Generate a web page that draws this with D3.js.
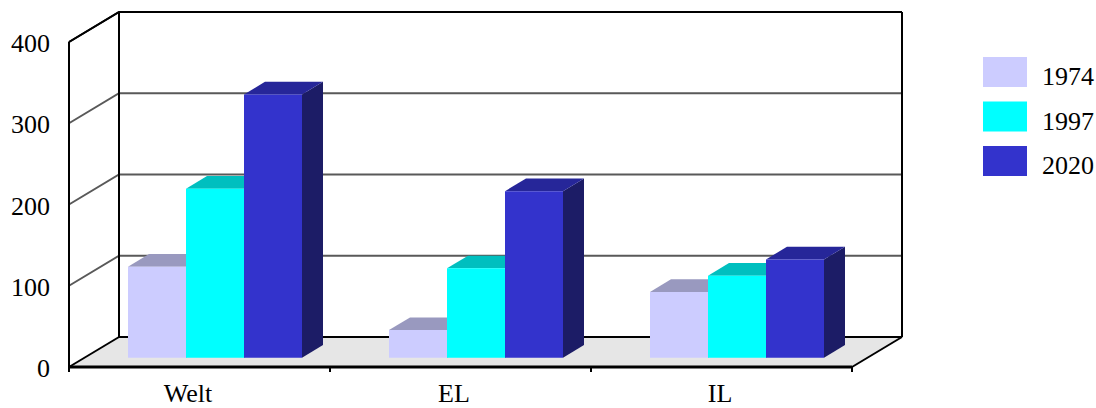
<!DOCTYPE html>
<html>
<head>
<meta charset="utf-8">
<script src="https://cdn.jsdelivr.net/npm/d3@7"></script>
<style>
html,body{margin:0;padding:0;background:#fff;}
svg{display:block;}
text{font-family:"Liberation Serif","Times New Roman",serif;fill:#000;}
</style>
</head>
<body>
<svg id="chart" width="1096" height="408"></svg>
<script>
const categories = ["Welt", "EL", "IL"];
const seriesNames = ["1974", "1997", "2020"];
const values1974 = [112, 34, 81];
const values1997 = [208, 110, 101];
const values2020 = [324, 205, 121];
const yTicks = [0, 100, 200, 300, 400];

const seriesValues = [values1974, values1997, values2020];
const frontColors = ["#CCCCFF", "#00FFFF", "#3333CC"];
const topColors = ["#9999BF", "#00BFBF", "#262699"];
const sideColors = ["#8C8CB3", "#00A6A6", "#1C1C66"];

const svg = d3.select("#chart");

// geometry
const depthX = 50, depthY = -30;
const x = d3.scaleBand().domain(categories).range([69, 852]).paddingInner(0).paddingOuter(0);
const xs = d3.scaleBand().domain(seriesNames).range([0, x.bandwidth()]).paddingInner(0).paddingOuter(0.75);
const y = d3.scaleLinear().domain([0, 400]).range([367, 42]);
const xLabel = d3.scaleBand().domain(categories).range([55, 853]);

const P = (px, py, d) => [px + depthX * d, py + depthY * d];
const poly = pts => pts.map(p => p.join(",")).join(" ");

const x0 = x.range()[0], x1 = x.range()[1];

// floor
svg.append("polygon")
  .attr("points", poly([P(x0, y(0), 0), P(x1, y(0), 0), P(x1, y(0), 1), P(x0, y(0), 1)]))
  .attr("fill", "#E6E6E6");

// grid lines (back wall + left wall)
const g = svg.append("g");
yTicks.filter(t => t > 0 && t < 400).forEach(t => {
  const a = P(x0, y(t), 0), b = P(x0, y(t), 1), c = P(x1, y(t), 1);
  g.append("polyline").attr("points", poly([a, b, c]))
    .attr("fill", "none").attr("stroke", "#595959").attr("stroke-width", 2);
});

// frame lines
const frame = svg.append("g").attr("stroke", "#000").attr("stroke-width", 2).attr("fill", "none");
frame.append("polyline").attr("points", poly([P(x0, y(400), 0), P(x0, y(400), 1), P(x1, y(400), 1)]));
frame.append("line").attr("x1", P(x0,0,1)[0]).attr("x2", P(x0,0,1)[0]).attr("y1", P(0,y(400),1)[1]).attr("y2", P(0,y(0),1)[1]);
frame.append("line").attr("x1", P(x1,0,1)[0]).attr("x2", P(x1,0,1)[0]).attr("y1", P(0,y(400),1)[1]).attr("y2", P(0,y(0),1)[1]);
frame.append("line").attr("x1", P(x0,0,1)[0]).attr("x2", P(x1,0,1)[0]).attr("y1", P(0,y(0),1)[1]).attr("y2", P(0,y(0),1)[1]);
frame.append("line").attr("x1", x0).attr("y1", y(0)).attr("x2", P(x0,0,1)[0]).attr("y2", P(0,y(0),1)[1]);
frame.append("line").attr("x1", x1).attr("y1", y(0)).attr("x2", P(x1,0,1)[0]).attr("y2", P(0,y(0),1)[1]);

// bars
const dFront = 0.31, dBack = 0.31 + 0.42;
const bars = svg.append("g");
categories.forEach((cat, ci) => {
  seriesNames.forEach((s, si) => {
    const v = seriesValues[si][ci];
    const l = x(cat) + xs(s), r = l + xs.bandwidth();
    const top = y(v), bot = y(0);
    const fl = P(l, top, dFront), fr = P(r, top, dFront);
    const flb = P(l, bot, dFront), frb = P(r, bot, dFront);
    const bl = P(l, top, dBack), br = P(r, top, dBack), brb = P(r, bot, dBack);
    bars.append("polygon").attr("points", poly([fr, br, brb, frb])).attr("fill", sideColors[si]);
    bars.append("polygon").attr("points", poly([fl, fr, br, bl])).attr("fill", topColors[si]);
    bars.append("polygon").attr("points", poly([fl, fr, frb, flb])).attr("fill", frontColors[si]);
  });
});

// front axes
const axes = svg.append("g").attr("stroke", "#000").attr("fill", "none");
axes.append("line").attr("x1", x0).attr("x2", x0).attr("y1", y(400)).attr("y2", y(0) + 5).attr("stroke-width", 2);
axes.append("line").attr("x1", x0).attr("x2", x1).attr("y1", y(0)).attr("y2", y(0)).attr("stroke-width", 3);
categories.forEach(c => {
  const xe = x(c) + x.bandwidth();
  axes.append("line").attr("x1", xe).attr("x2", xe).attr("y1", y(0)).attr("y2", y(0) + 5).attr("stroke-width", 2);
});
axes.append("line").attr("x1", x0).attr("y1", y(400)).attr("x2", P(x0,0,1)[0]).attr("y2", P(0,y(400),1)[1]).attr("stroke-width", 2);

// y labels
svg.append("g").selectAll("text").data(yTicks).join("text")
  .attr("x", 50).attr("y", d => y(d) + 10)
  .attr("text-anchor", "end")
  .attr("font-size", 26)
  .text(d => d);

// category labels
svg.append("g").selectAll("text").data(categories).join("text")
  .attr("x", d => xLabel(d) + xLabel.bandwidth() / 2)
  .attr("y", 402)
  .attr("text-anchor", "middle")
  .attr("font-size", 26)
  .text(d => d);

// legend
const legend = svg.append("g");
seriesNames.forEach((s, i) => {
  const ly = 57 + i * 44.5;
  legend.append("rect").attr("x", 983).attr("y", ly).attr("width", 44).attr("height", 30).attr("fill", frontColors[i]);
  legend.append("text").attr("x", 1042).attr("y", ly + 28).attr("font-size", 26).text(s);
});
</script>
</body>
</html>
